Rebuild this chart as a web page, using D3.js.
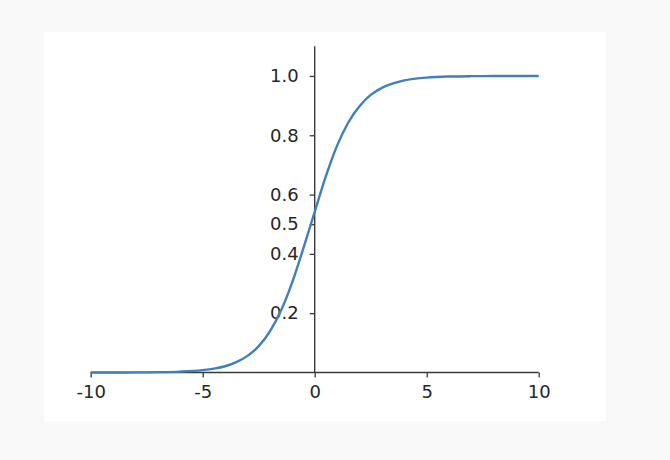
<!DOCTYPE html>
<html>
<head>
<meta charset="utf-8">
<script src="https://cdn.jsdelivr.net/npm/d3@7"></script>
<style>
  html, body { margin: 0; padding: 0; background: #f9f9f9; }
  svg { display: block; }
  text { font-family: "DejaVu Sans", sans-serif; }
</style>
</head>
<body>
<svg id="chart" width="670" height="460"></svg>
<script>
// Values
const xValues = [-10, -9, -8, -7, -6, -5, -4.5, -4, -3.5, -3, -2.5, -2, -1.5, -1, -0.5, 0, 0.5, 1, 1.5, 2, 2.5, 3, 3.5, 4, 4.5, 5, 6, 7, 8, 9, 10];
const yValues = [0.0001, 0.00015, 0.0004, 0.0011, 0.003, 0.008, 0.013, 0.021, 0.035, 0.056, 0.089, 0.139, 0.21, 0.305, 0.42, 0.542, 0.662, 0.765, 0.843, 0.898, 0.936, 0.96, 0.975, 0.985, 0.991, 0.9945, 0.998, 0.9993, 0.9997, 0.9999, 1.0];
const xTicks = [-10, -5, 0, 5, 10];
const xTickLabels = ["-10", "-5", "0", "5", "10"];
const yTicks = [0.2, 0.4, 0.5, 0.6, 0.8, 1.0];
const yTickLabels = ["0.2", "0.4", "0.5", "0.6", "0.8", "1.0"];
const xDomain = [-10, 10];
const yDomain = [0, 1.1];

const svg = d3.select("#chart");

// white figure panel
svg.append("rect").attr("x", 44).attr("y", 32).attr("width", 562).attr("height", 389).attr("fill", "#ffffff");

const x = d3.scaleLinear().domain(xDomain).range([90.7, 538.7]);
const y = d3.scaleLinear().domain(yDomain).range([372.5, 46.3]);

const axisColor = "#3a3a3a";
const textColor = "#262626";

// x axis at y = 0
const gx = svg.append("g")
  .attr("transform", `translate(0,${y(0)})`)
  .call(d3.axisBottom(x).tickValues(xTicks).tickFormat((d, i) => xTickLabels[i]).tickSize(5).tickPadding(8));
// y axis at x = 0
const gy = svg.append("g")
  .attr("transform", `translate(${x(0)},0)`)
  .call(d3.axisLeft(y).tickValues(yTicks).tickFormat((d, i) => yTickLabels[i]).tickSize(5).tickPadding(11));

[gx, gy].forEach(g => {
  g.select(".domain").attr("stroke", axisColor).attr("stroke-width", 1.4);
  g.selectAll(".tick line").attr("stroke", axisColor).attr("stroke-width", 1.3);
  g.selectAll(".tick text").attr("fill", textColor).style("font-size", "18px").style("font-family", "'DejaVu Sans', sans-serif");
});
// remove outer ticks from domain path
gx.select(".domain").attr("d", `M${x(-10)},0H${x(10)}`);
gy.select(".domain").attr("d", `M0,${y(0)}V${y(1.1)}`);

// the curve
const data = xValues.map((v, i) => ({ x: v, y: yValues[i] }));
const line = d3.line().x(d => x(d.x)).y(d => y(d.y)).curve(d3.curveMonotoneX);
svg.append("path")
  .datum(data)
  .attr("fill", "none")
  .attr("stroke", "#3f7fbd")
  .attr("stroke-width", 2.4)
  .attr("d", line);
</script>
</body>
</html>
